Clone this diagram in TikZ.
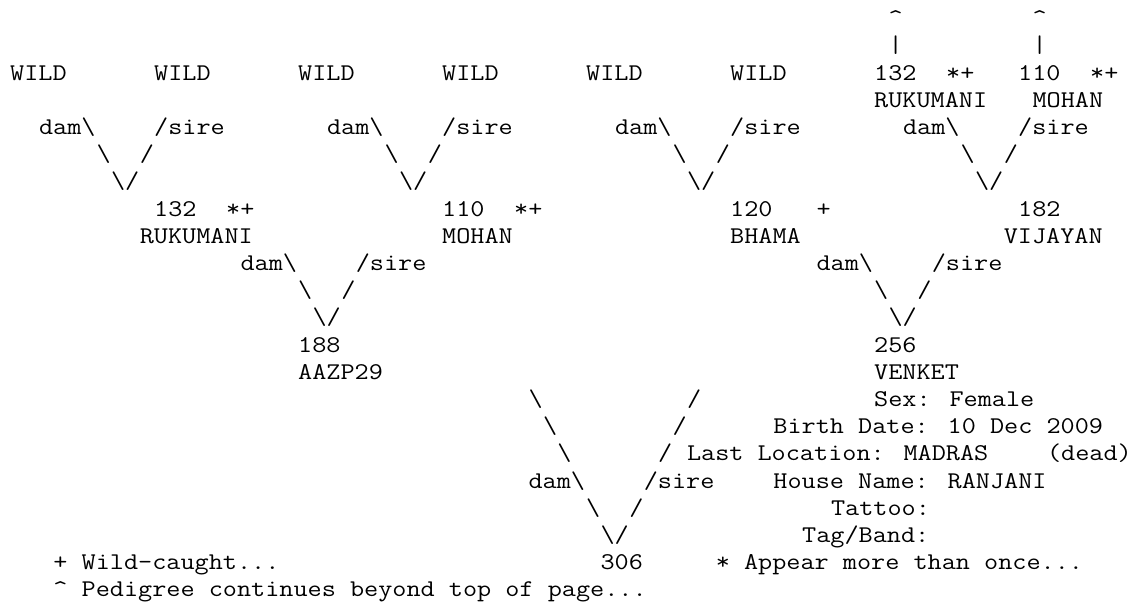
\documentclass[tikz,border=0pt]{standalone}
\usepackage{fontspec}
\newfontfamily\pedmono{Latin Modern Mono}[FakeStretch=1.143]
\newcommand{\bs}{\textbackslash}
\begin{document}
\begin{tikzpicture}[
  x=14.4pt, y=-27.2pt,
  ped/.style={anchor=base west, inner sep=0pt, font=\pedmono\fontsize{24}{27.2}\selectfont},
  link/.style={ped},
  note/.style={ped}
]
\useasboundingbox (-10pt,25.6pt) rectangle (1123pt,-580.4pt);
% continuation marks
\node[link] (upa) at (61,0) {\textasciicircum};
\node[link] (upb) at (71,0) {\textasciicircum};
\node[link] (bara) at (61,1) {|};
\node[link] (barb) at (71,1) {|};
% top generation
\node[ped] (w1) at (0,2) {WILD};
\node[ped] (w2) at (10,2) {WILD};
\node[ped] (w3) at (20,2) {WILD};
\node[ped] (w4) at (30,2) {WILD};
\node[ped] (w5) at (40,2) {WILD};
\node[ped] (w6) at (50,2) {WILD};
\node[ped] (t132) at (60,2) {132};
\node[ped] (t132f) at (65,2) {*+};
\node[ped] (t110) at (70,2) {110};
\node[ped] (t110f) at (75,2) {*+};
\node[ped] (t132n) at (60,3) {RUKUMANI};
\node[ped] (t110n) at (71,3) {MOHAN};
\node[link] (damA) at (2,4) {dam\bs};
\node[link] (sireA) at (10,4) {/sire};
\node[link] (damB) at (22,4) {dam\bs};
\node[link] (sireB) at (30,4) {/sire};
\node[link] (damC) at (42,4) {dam\bs};
\node[link] (sireC) at (50,4) {/sire};
\node[link] (damD) at (62,4) {dam\bs};
\node[link] (sireD) at (70,4) {/sire};
\node[link] (lA) at (6,5) {\bs};
\node[link] (rA) at (9,5) {/};
\node[link] (lB) at (26,5) {\bs};
\node[link] (rB) at (29,5) {/};
\node[link] (lC) at (46,5) {\bs};
\node[link] (rC) at (49,5) {/};
\node[link] (lD) at (66,5) {\bs};
\node[link] (rD) at (69,5) {/};
\node[link] (vA) at (7,6) {\bs/};
\node[link] (vB) at (27,6) {\bs/};
\node[link] (vC) at (47,6) {\bs/};
\node[link] (vD) at (67,6) {\bs/};
% grandparents
\node[ped] (a132) at (10,7) {132};
\node[ped] (a132f) at (15,7) {*+};
\node[ped] (a110) at (30,7) {110};
\node[ped] (a110f) at (35,7) {*+};
\node[ped] (a120) at (50,7) {120};
\node[ped] (a120f) at (56,7) {+};
\node[ped] (a182) at (70,7) {182};
\node[ped] (a132n) at (9,8) {RUKUMANI};
\node[ped] (a110n) at (30,8) {MOHAN};
\node[ped] (a120n) at (50,8) {BHAMA};
\node[ped] (a182n) at (69,8) {VIJAYAN};
\node[link] (damE) at (16,9) {dam\bs};
\node[link] (sireE) at (24,9) {/sire};
\node[link] (damF) at (56,9) {dam\bs};
\node[link] (sireF) at (64,9) {/sire};
\node[link] (lE) at (20,10) {\bs};
\node[link] (rE) at (23,10) {/};
\node[link] (lF) at (60,10) {\bs};
\node[link] (rF) at (63,10) {/};
\node[link] (vE) at (21,11) {\bs/};
\node[link] (vF) at (61,11) {\bs/};
% parents
\node[ped] (p188) at (20,12) {188};
\node[ped] (p188n) at (20,13) {AAZP29};
\node[ped] (p256) at (60,12) {256};
\node[ped] (p256n) at (60,13) {VENKET};
\node[link] (lG1) at (36,14) {\bs};
\node[link] (rG1) at (47,14) {/};
\node[link] (lG2) at (37,15) {\bs};
\node[link] (rG2) at (46,15) {/};
\node[link] (lG3) at (38,16) {\bs};
\node[link] (rG3) at (45,16) {/};
\node[link] (damG) at (36,17) {dam\bs};
\node[link] (sireG) at (44,17) {/sire};
\node[link] (lG) at (40,18) {\bs};
\node[link] (rG) at (43,18) {/};
\node[link] (vG) at (41,19) {\bs/};
\node[ped] (k306) at (41,20) {306};
% details of the dam
\node[note] (sex) at (60,14) {Sex: Female};
\node[note] (birth) at (53,15) {Birth Date: 10 Dec 2009};
\node[note] (loc) at (47,16) {Last Location: MADRAS};
\node[note] (dead) at (72,16) {(dead)};
\node[note] (house) at (53,17) {House Name: RANJANI};
\node[note] (tattoo) at (57,18) {Tattoo:};
\node[note] (tag) at (55,19) {Tag/Band:};
% legend
\node[note] (keywild) at (3,20) {+ Wild-caught...};
\node[note] (keytwice) at (49,20) {* Appear more than once...};
\node[note] (keytop) at (3,21) {\textasciicircum{} Pedigree continues beyond top of page...};
\end{tikzpicture}
\end{document}
